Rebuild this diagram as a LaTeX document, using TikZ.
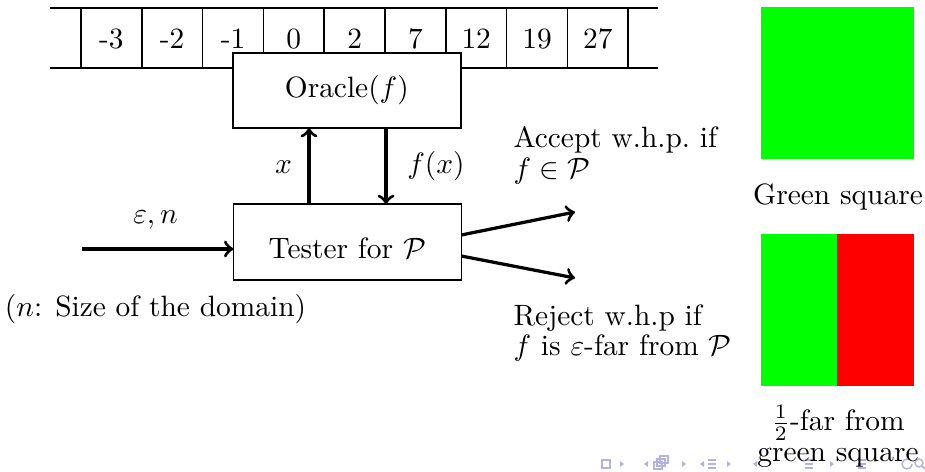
\documentclass[tikz,border=0pt]{standalone}
\usetikzlibrary{calc}
\definecolor{navc}{rgb}{0.70,0.70,0.89}
\definecolor{sqgreen}{rgb}{0,1,0}
\definecolor{sqred}{rgb}{1,0,0}
\begin{document}
\begin{tikzpicture}[x=0.34pt,y=-0.34pt,
  box/.style={draw,fill=white,line width=0.5pt,inner sep=0pt,outer sep=0pt,minimum width=77.5pt},
  arr/.style={->,line width=1.1pt},
  lbl/.style={inner sep=0pt,anchor=base},
  twoline/.style={inner sep=0pt,font=\fontsize{10}{10.4}\selectfont},
  tapeline/.style={line width=0.5pt},
  sq/.style={inner sep=0pt,outer sep=0pt,draw=none,minimum height=51.7pt},
  nav/.style={navc,line width=0.5pt}]
\useasboundingbox (0,0) rectangle (925,471);
% tape
\draw[tapeline] (50,8) -- (658,8) (50,68) -- (658,68);
\foreach \i in {0,...,9} \draw[tapeline] (81+60.8*\i,8) -- (81+60.8*\i,68);
\foreach \v [count=\i from 0] in {-3,-2,-1,0,2,7,12,19,27}
  \node[lbl] (t\i) at (111.4+60.8*\i,48) {\v};
% boxes
\node[box,minimum height=25.5pt] (oracle) at (346.8,90.5) {Oracle$(f)$};
\node[box,minimum height=25.8pt,text height=10.9pt,text depth=0pt] (tester) at (347.3,242) {Tester for $\mathcal{P}$};
% oracle arrows
\coordinate (ux) at (309,0);
\coordinate (dx) at (386,0);
\draw[arr] (tester.north -| ux) -- (oracle.south -| ux);
\draw[arr] (oracle.south -| dx) -- (tester.north -| dx);
\node[lbl] (xl) at (283.5,173) {$x$};
\node[lbl] (fx) at (436,173) {$f(x)$};
% input
\coordinate (in) at (81.5,249);
\draw[arr] (in) -- (tester.west |- in);
\node[lbl] (en) at (155.5,223) {$\varepsilon, n$};
\node[lbl] (dom) at (155.5,316) {($n$: Size of the domain)};
% outputs
\coordinate (acc) at (575,212);
\coordinate (rej) at (575,278);
\draw[arr] ($(tester.east)+(0,-7)$) -- (acc);
\draw[arr] ($(tester.east)+(0,14)$) -- (rej);
\node[twoline,anchor=north west,align=left] (acct) at (513,126) {Accept w.h.p.\ if\\ $f \in \mathcal{P}$};
\node[twoline,anchor=north west,align=left] (rejt) at (513,304) {Reject w.h.p if\\ $f$ is $\varepsilon$-far from $\mathcal{P}$};
% squares
\node[sq,fill=sqgreen,minimum width=52pt] (g1) at (837.5,83) {};
\node[lbl] (gt) at (838,204) {Green square};
\node[sq,fill=sqgreen,minimum width=25.84pt] (g2) at (799,310) {};
\node[sq,fill=sqred,minimum width=26.2pt] (r2) at (875.5,310) {};
% navigation symbols (faint)
\draw[nav] (602,460) rectangle (610,468);
\fill[navc] (620,461) -- (624,464) -- (620,467) -- cycle;
\fill[navc] (648,461) -- (644,464) -- (648,467) -- cycle;
\draw[nav] (654,462) rectangle (662,469);
\draw[nav] (657,459) rectangle (665,466);
\draw[nav] (660,456) rectangle (668,463);
\fill[navc] (682,461) -- (686,464) -- (682,467) -- cycle;
\fill[navc] (704,461) -- (700,464) -- (704,467) -- cycle;
\draw[nav] (708,460) -- (716,460) (708,464) -- (716,464) (708,468) -- (716,468);
\fill[navc] (727,461) -- (731,464) -- (727,467) -- cycle;
\fill[navc] (757,461) -- (753,464) -- (757,467) -- cycle;
\draw[nav] (805,460) -- (813,460) (805,464) -- (813,464) (805,468) -- (813,468);
\fill[navc] (830,461) -- (834,464) -- (830,467) -- cycle;
\draw[nav] (858,460) -- (866,460) (858,464) -- (866,464) (858,468) -- (866,468);
\draw[nav] (912,464) arc (0:300:5);
\draw[nav] (919,463) circle (4) (922,466) -- (925,469);
% bottom text drawn above nav
\node[twoline,anchor=north,align=center] (ft) at (838,405) {$\frac{1}{2}$-far from\\ green square};
\end{tikzpicture}
\end{document}
